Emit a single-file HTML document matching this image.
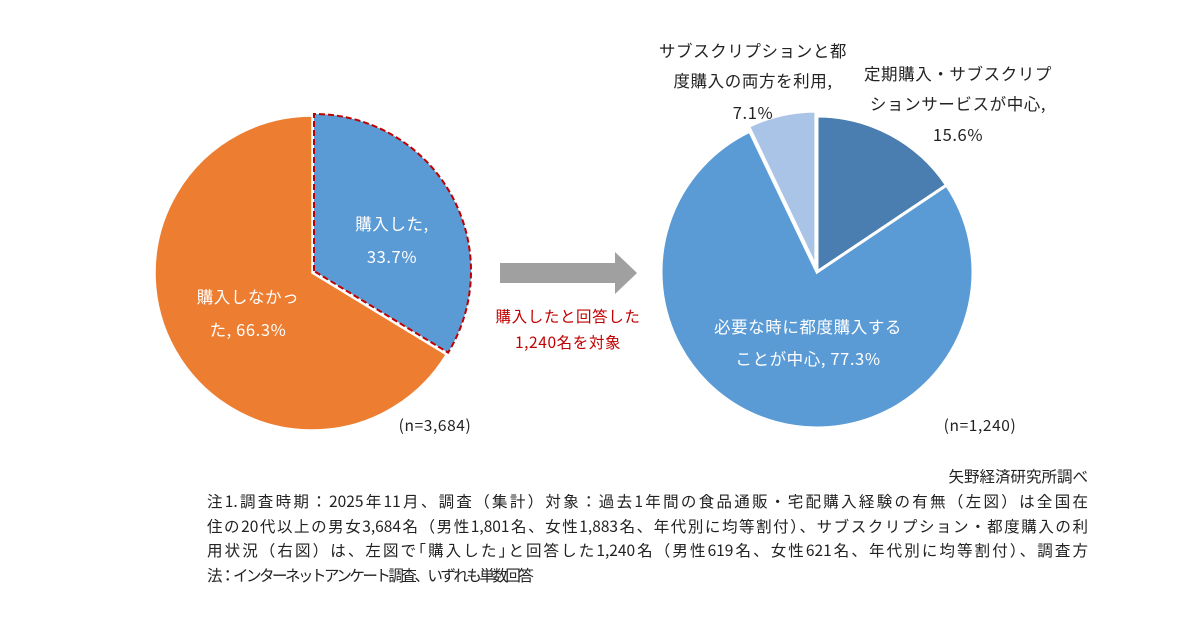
<!DOCTYPE html>
<html><head><meta charset="utf-8">
<style>
html,body{margin:0;padding:0;background:#fff;}
body{width:1200px;height:630px;overflow:hidden;position:relative;font-family:"Noto Sans CJK JP","Liberation Sans",sans-serif;}
svg{position:absolute;left:0;top:0;}
svg text{font-family:"Noto Sans CJK JP","Liberation Sans",sans-serif;}
.note{position:absolute;left:207px;top:489px;width:881px;font-size:15.5px;line-height:24.5px;color:#222;}
.note div{white-space:nowrap;text-align:justify;text-align-last:justify;text-justify:inter-character;}
.note div.last{text-align:left;text-align-last:left;letter-spacing:-2.5px;}
.src{position:absolute;right:112px;top:465px;font-size:15.5px;color:#222;}
</style></head>
<body>
<svg id="chart" width="1200" height="630"></svg>
<div class="src">矢野経済研究所調べ</div>
<div class="note"><div>注1.調査時期：2025年11月、調査（集計）対象：過去1年間の食品通販・宅配購入経験の有無（左図）は全国在</div><div>住の20代以上の男女3,684名（男性1,801名、女性1,883名、年代別に均等割付）、サブスクリプション・都度購入の利</div><div>用状況（右図）は、左図で｢購入した｣と回答した1,240名（男性619名、女性621名、年代別に均等割付）、調査方</div><div class="last">法：インターネットアンケート調査、いずれも単数回答</div></div>
<script>
const leftCategories = ["購入した", "購入しなかった"];
const leftValues = [33.7, 66.3];
const rightCategories = ["定期購入・サブスクリプションサービスが中心", "必要な時に都度購入することが中心", "サブスクリプションと都度購入の両方を利用"];
const rightValues = [15.6, 77.3, 7.1];

const NS = "http://www.w3.org/2000/svg";
const svg = document.getElementById("chart");
function mk(tag, attrs, parent){
  const e = document.createElementNS(NS, tag);
  for (const k in attrs) e.setAttribute(k, attrs[k]);
  (parent||svg).appendChild(e);
  return e;
}
function pt(cx, cy, r, frac){ const a = frac*2*Math.PI; return [cx + r*Math.sin(a), cy - r*Math.cos(a)]; }
function slicePath(cx, cy, r, f0, f1){
  const p0 = pt(cx,cy,r,f0), p1 = pt(cx,cy,r,f1);
  const large = (f1-f0) > 0.5 ? 1 : 0;
  return `M${cx},${cy} L${p0[0]},${p0[1]} A${r},${r} 0 ${large} 1 ${p1[0]},${p1[1]} Z`;
}
function text(x, y, str, opts){
  const t = mk("text", Object.assign({x:x, y:y, "font-size":16.5, "text-anchor":"middle", fill:"#222", "letter-spacing":0.6}, opts||{}));
  t.textContent = str;
  
  
  return t;
}

// Left pie
const lcx = 312, lcy = 273, lr = 157;
const lColors = ["#5B9BD5", "#ED7D31"];
let acc = 0;
const lTotal = leftValues.reduce((a,b)=>a+b,0);
const lPaths = [];
leftValues.forEach((v,i)=>{
  const f0 = acc/lTotal, f1 = (acc+v)/lTotal; acc += v;
  const attrs = {d: slicePath(lcx,lcy,lr,f0,f1), fill: lColors[i], stroke:"#fff", "stroke-width":1.5};
  if (i===0){ attrs.stroke="#C00000"; attrs["stroke-width"]=2; attrs["stroke-dasharray"]="6,3"; attrs.transform="translate(2,-2)"; }
  const p = mk("path", attrs);
  
  
  lPaths.push(p);
});
svg.appendChild(lPaths[0]);
text(392, 230, "購入した,", {fill:"#fff", dn:"label-purchased"});
text(392, 263, leftValues[0].toFixed(1)+"%", {fill:"#fff", dn:"value-purchased"});
text(248, 303, "購入しなかっ", {fill:"#fff", dn:"label-not-purchased"});
text(248, 336, "た, "+leftValues[1].toFixed(1)+"%", {fill:"#fff", dn:"value-not-purchased"});
text(435, 431, "(n=3,684)", {dn:"left-n", "font-size":15.5});

// Arrow
const ar = mk("path", {d:"M500,263 L615,263 L615,252 L637,273 L615,294 L615,283 L500,283 Z", fill:"#A0A0A0"});


text(568, 322, "購入したと回答した", {fill:"#C00000", "font-size":15.5, dn:"arrow-caption-1"});
text(568, 348, "1,240名を対象", {fill:"#C00000", "font-size":15.5, dn:"arrow-caption-2"});

// Right pie
const rcx = 817, rcy = 272, rr = 156;
const rColors = ["#4A7EB0", "#5B9BD5", "#A9C4E6"];
const rTotal = rightValues.reduce((a,b)=>a+b,0);
acc = 0;
rightValues.forEach((v,i)=>{
  const f0 = acc/rTotal, f1 = (acc+v)/rTotal; acc += v;
  const attrs = {d: slicePath(rcx,rcy,rr,f0,f1), fill: rColors[i], stroke:"#fff", "stroke-width":3};
  if (i===2){ const m = pt(0,0,5,(f0+f1)/2); attrs.transform = `translate(${m[0]},${m[1]})`; }
  const p = mk("path", attrs);
  
  
});
text(958, 80, "定期購入・サブスクリプ", {dn:"label-subscription-1"});
text(958, 110, "ションサービスが中心,", {dn:"label-subscription-2"});
text(958, 141, rightValues[0].toFixed(1)+"%", {dn:"value-subscription"});
text(753, 57, "サブスクリプションと都", {dn:"label-both-1"});
text(753, 87, "度購入の両方を利用,", {dn:"label-both-2"});
text(753, 119, rightValues[2].toFixed(1)+"%", {dn:"value-both"});
text(808, 333, "必要な時に都度購入する", {fill:"#fff", dn:"label-per-purchase-1"});
text(808, 365, "ことが中心, "+rightValues[1].toFixed(1)+"%", {fill:"#fff", dn:"label-per-purchase-2"});
text(980, 431, "(n=1,240)", {dn:"right-n", "font-size":15.5});
</script>
</body></html>
